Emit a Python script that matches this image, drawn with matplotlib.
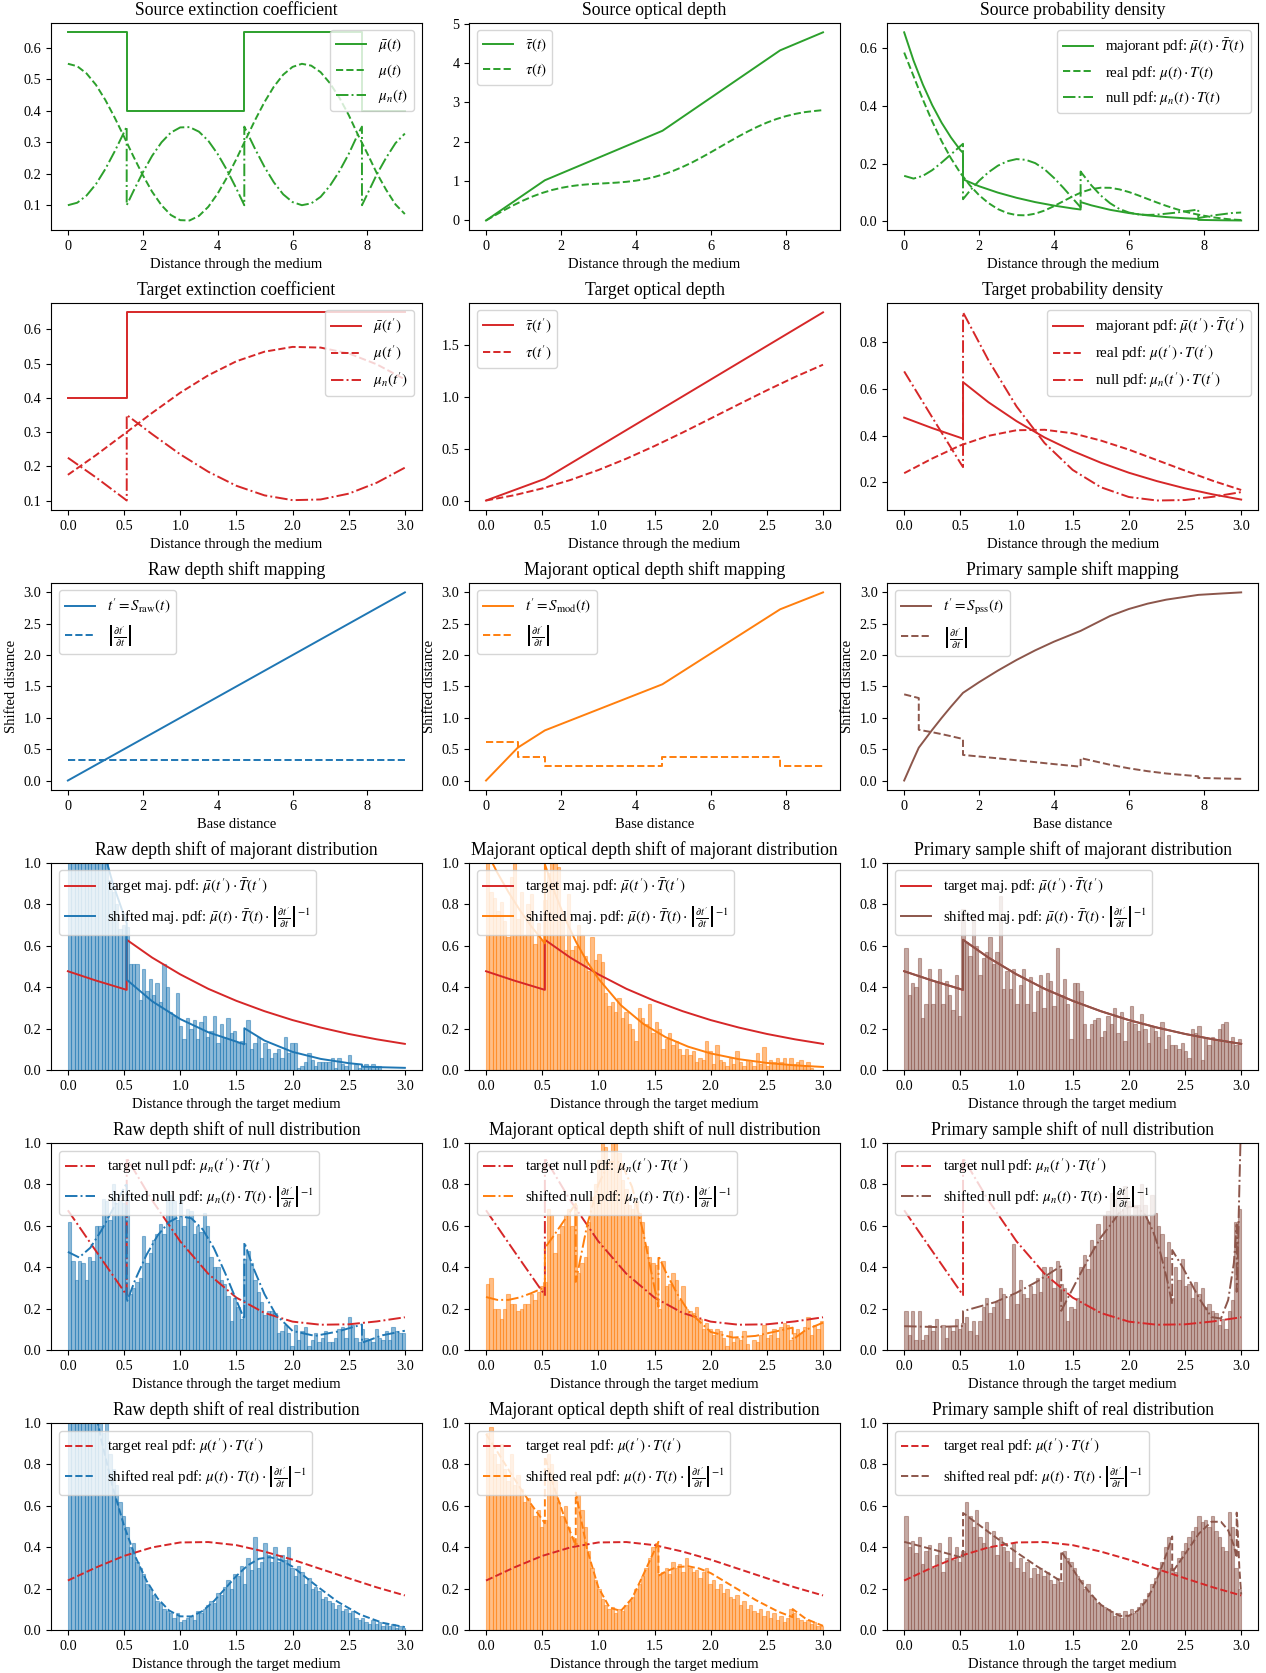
import numpy as np
import matplotlib
matplotlib.use("Agg")
import matplotlib.pyplot as plt

plt.rcParams["font.family"] = "serif"
plt.rcParams["font.serif"] = ["Liberation Serif", "DejaVu Serif"]
plt.rcParams["mathtext.fontset"] = "stix"
plt.rcParams["axes.titlesize"] = 12.7
plt.rcParams["axes.labelsize"] = 10.5
plt.rcParams["xtick.labelsize"] = 10.3
plt.rcParams["ytick.labelsize"] = 10.3
plt.rcParams["legend.fontsize"] = 10.8

c_src = "#2ca02c"
c_tgt = "#d62728"
c_raw = "#1f77b4"
c_mod = "#ff7f0e"
c_pss = "#8c564b"

# ---- source medium (t in [0, 9]) ----
src_x = [0, 0.25, 0.5, 0.75, 1.0, 1.25, 1.5, 1.75, 2.0, 2.25, 2.5, 2.75, 3.0, 3.25, 3.5, 3.75, 4.0,
         4.25, 4.5, 4.75, 5.0, 5.25, 5.5, 5.75, 6.0, 6.25, 6.5, 6.75, 7.0, 7.25, 7.5, 7.75, 8.0,
         8.25, 8.5, 8.75, 9.0]
src_mu = [0.55, 0.5422, 0.519, 0.4829, 0.435, 0.3788, 0.318, 0.2554, 0.196, 0.1429, 0.100, 0.0689,
          0.0525, 0.0515, 0.066, 0.0949, 0.137, 0.1885, 0.247, 0.3094, 0.371, 0.428, 0.477, 0.5153,
          0.540, 0.5499, 0.544, 0.5233, 0.488, 0.4421, 0.387, 0.3232, 0.264, 0.202, 0.149, 0.1024,
          0.072]
src_mubar_x = [0, 1.571, 1.571, 4.712, 4.712, 7.854, 7.854, 9.0]
src_mubar = [0.65, 0.65, 0.4, 0.4, 0.65, 0.65, 0.4, 0.4]
src_mun_x = [0, 0.25, 0.5, 0.75, 1.0, 1.25, 1.5, 1.571, 1.571, 1.75, 2.0, 2.25, 2.5, 2.75, 3.0, 3.25,
             3.5, 3.75, 4.0, 4.25, 4.5, 4.712, 4.712, 4.75, 5.0, 5.25, 5.5, 5.75, 6.0, 6.25, 6.5,
             6.75, 7.0, 7.25, 7.5, 7.75, 7.854, 7.854, 8.0, 8.25, 8.5, 8.75, 9.0]
src_mun = [0.1, 0.108, 0.131, 0.1671, 0.215, 0.2712, 0.332, 0.35, 0.1, 0.1446, 0.204, 0.2571, 0.300,
           0.3311, 0.3475, 0.3485, 0.334, 0.3051, 0.263, 0.2115, 0.153, 0.1, 0.35, 0.3406, 0.279,
           0.222, 0.173, 0.1347, 0.11, 0.1001, 0.106, 0.1267, 0.162, 0.2079, 0.263, 0.3268, 0.35,
           0.1, 0.136, 0.198, 0.251, 0.2976, 0.328]
src_taubar_x = [0, 1.571, 4.712, 7.854, 9.0]
src_taubar = [0, 1.021, 2.278, 4.320, 4.778]
src_tau = [0, 0.1368, 0.27, 0.3954, 0.51, 0.6122, 0.699, 0.771, 0.827, 0.8695, 0.90, 0.9204, 0.935,
           0.9479, 0.962, 0.9821, 1.011, 1.0513, 1.106, 1.1752, 1.26, 1.3603, 1.472, 1.598, 1.73,
           1.8667, 2.004, 2.1375, 2.264, 2.3807, 2.485, 2.5739, 2.647, 2.705, 2.75, 2.7781, 2.803]
src_majpdf_x = [0, 0.25, 0.5, 0.75, 1.0, 1.25, 1.5, 1.571, 1.571, 2.0, 2.5, 3.0, 3.5, 4.0, 4.5, 4.712,
                4.712, 5.0, 5.5, 6.0, 6.5, 7.0, 7.5, 7.854, 7.854, 8.0, 8.5, 9.0]
src_majpdf = [0.655, 0.5573, 0.474, 0.4026, 0.342, 0.2908, 0.247, 0.238, 0.146, 0.122, 0.100, 0.082,
              0.067, 0.055, 0.045, 0.0413, 0.0672, 0.0558, 0.0403, 0.0291, 0.0211, 0.0152, 0.0110,
              0.0087, 0.0054, 0.0051, 0.0041, 0.0034]
src_realpdf = [0.585, 0.5034, 0.422, 0.3462, 0.278, 0.2186, 0.168, 0.1258, 0.091, 0.0638, 0.043,
               0.0292, 0.022, 0.0212, 0.027, 0.0378, 0.053, 0.0701, 0.087, 0.1017, 0.112, 0.1169,
               0.1166, 0.111, 0.102, 0.0905, 0.078, 0.0657, 0.054, 0.0435, 0.034, 0.0263, 0.020,
               0.0144, 0.010, 0.0068, 0.005]
src_nullpdf = [0.158, 0.1485, 0.158, 0.1778, 0.204, 0.2323, 0.261, 0.269, 0.077, 0.1057, 0.141,
               0.1702, 0.193, 0.2084, 0.216, 0.2134, 0.202, 0.1806, 0.151, 0.1168, 0.080, 0.049,
               0.173, 0.1662, 0.125, 0.090, 0.063, 0.0431, 0.031, 0.0245, 0.0226, 0.0236, 0.027,
               0.0304, 0.035, 0.0394, 0.041, 0.0117, 0.015, 0.0209, 0.025, 0.0292, 0.031]

# ---- target medium (t' in [0, 3]) ----
tgt_x = [0, 0.25, 0.5, 0.75, 1.0, 1.25, 1.5, 1.75, 2.0, 2.25, 2.5, 2.75, 3.0]
tgt_mu = [0.175, 0.2325, 0.294, 0.356, 0.415, 0.466, 0.507, 0.535, 0.549, 0.547, 0.530, 0.498, 0.454]
tgt_mubar_x = [0, 0.524, 0.524, 3.0]
tgt_mubar = [0.4, 0.4, 0.65, 0.65]
tgt_mun_x = [0, 0.25, 0.5, 0.524, 0.524, 0.75, 1.0, 1.25, 1.5, 1.75, 2.0, 2.25, 2.5, 2.75, 3.0]
tgt_mun = [0.225, 0.1675, 0.106, 0.1, 0.35, 0.294, 0.235, 0.184, 0.143, 0.115, 0.101, 0.103,
           0.120, 0.152, 0.196]
tgt_taubar_x = [0, 0.524, 3.0]
tgt_taubar = [0, 0.2094, 1.819]
tgt_tau = [0, 0.0507, 0.1166, 0.198, 0.2945, 0.4047, 0.5266, 0.657, 0.793, 0.930, 1.065, 1.194, 1.313]
tgt_majpdf_x = [0, 0.25, 0.524, 0.524, 0.75, 1.0, 1.25, 1.5, 1.75, 2.0, 2.25, 2.5, 2.75, 3.0]
tgt_majpdf = [0.477, 0.432, 0.387, 0.629, 0.543, 0.462, 0.392, 0.334, 0.284, 0.241, 0.205, 0.174,
              0.148, 0.126]
tgt_realpdf = [0.239, 0.302, 0.358, 0.399, 0.423, 0.425, 0.410, 0.379, 0.340, 0.295, 0.250, 0.206, 0.167]
tgt_nullpdf = [0.675, 0.478, 0.283, 0.265, 0.928, 0.723, 0.525, 0.368, 0.253, 0.179, 0.137, 0.122,
               0.124, 0.138, 0.158]

# ---- shift mappings ----
raw_map_x = [0, 9.0]
raw_map = [0, 3.0]
raw_jac = [0.333, 0.333]
mod_map_x = [0, 0.847, 1.571, 4.712, 7.854, 9.0]
mod_map = [0, 0.524, 0.799, 1.535, 2.730, 3.0]
mod_jac_x = [0, 0.847, 0.847, 1.571, 1.571, 4.712, 4.712, 7.854, 7.854, 9.0]
mod_jac = [0.618, 0.618, 0.3805, 0.3805, 0.234, 0.234, 0.3805, 0.3805, 0.234, 0.234]
pss_map_x = [0, 0.2, 0.39, 0.75, 1.0, 1.25, 1.571, 2.0, 2.5, 3.0, 3.5, 4.0, 4.712, 5.5, 6.0, 6.5,
             7.0, 7.854, 8.5, 9.0]
pss_map = [0, 0.272, 0.524, 0.809, 0.998, 1.178, 1.398, 1.568, 1.752, 1.922, 2.076, 2.214, 2.386,
           2.624, 2.735, 2.82, 2.884, 2.96, 2.983, 3.0]
pss_jac_x = [0, 0.2, 0.39, 0.39, 0.75, 1.0, 1.25, 1.571, 1.571, 2.0, 2.5, 3.0, 3.5, 4.0, 4.712, 4.712,
             5.5, 6.0, 6.5, 7.0, 7.854, 7.854, 8.5, 9.0]
pss_jac = [1.374, 1.344, 1.315, 0.809, 0.770, 0.740, 0.707, 0.662, 0.408, 0.383, 0.354, 0.323, 0.293,
           0.262, 0.2205, 0.358, 0.251, 0.195, 0.149, 0.112, 0.0676, 0.0416, 0.0327, 0.027]

# ---- shifted pdfs ----
raw_maj_x = [0, 0.1, 0.2, 0.3, 0.4, 0.524, 0.524, 0.75, 1.0, 1.25, 1.571, 1.571, 1.75, 2.0, 2.25,
             2.5, 2.618, 2.618, 2.8, 3.0]
raw_maj = [1.966, 1.618, 1.331, 1.095, 0.901, 0.708, 0.436, 0.332, 0.246, 0.182, 0.124, 0.2016,
           0.142, 0.0873, 0.0535, 0.0328, 0.0262, 0.0161, 0.0130, 0.0102]
mod_maj_x = [0, 0.1, 0.2, 0.3, 0.4, 0.524, 0.524, 0.6, 0.7, 0.8, 0.9, 1.0, 1.2, 1.4, 1.6, 1.8, 2.0,
             2.25, 2.5, 2.75, 3.0]
mod_maj = [1.060, 0.954, 0.859, 0.773, 0.696, 0.6115, 0.994, 0.873, 0.736, 0.620, 0.523, 0.441,
           0.313, 0.2226, 0.158, 0.1124, 0.0799, 0.0521, 0.034, 0.0222, 0.0145]
pss_maj_x = tgt_majpdf_x
pss_maj = [0.477, 0.432, 0.387, 0.629, 0.543, 0.462, 0.392, 0.334, 0.284, 0.241, 0.205, 0.174,
           0.148, 0.126]

raw_null_x = [0, 0.1, 0.2, 0.3, 0.4, 0.524, 0.524, 0.6, 0.7, 0.8, 0.9, 1.0, 1.1, 1.2, 1.3, 1.4, 1.5,
              1.571, 1.571, 1.65, 1.75, 1.85, 2.0, 2.2, 2.4, 2.618, 2.618, 2.8, 3.0]
raw_null = [0.474, 0.447, 0.494, 0.579, 0.680, 0.807, 0.231, 0.340, 0.460, 0.554, 0.618, 0.647,
            0.636, 0.583, 0.492, 0.372, 0.240, 0.148, 0.52, 0.398, 0.270, 0.172, 0.092, 0.068,
            0.089, 0.123, 0.035, 0.071, 0.093]
mod_null_x = [0, 0.1, 0.2, 0.3, 0.4, 0.524, 0.524, 0.6, 0.7, 0.799, 0.799, 0.9, 1.0, 1.1, 1.2, 1.3,
              1.4, 1.47, 1.535, 1.535, 1.6, 1.7, 1.8, 2.0, 2.2, 2.4, 2.6, 2.73, 2.73, 2.85, 3.0]
mod_null = [0.256, 0.242, 0.242, 0.254, 0.274, 0.303, 0.493, 0.550, 0.629, 0.707, 0.329, 0.603,
            0.800, 0.909, 0.908, 0.788, 0.567, 0.379, 0.209, 0.455, 0.377, 0.273, 0.189, 0.087,
            0.060, 0.068, 0.092, 0.108, 0.050, 0.098, 0.132]
pss_shift_x = [0, 0.272, 0.524, 0.524, 0.809, 0.998, 1.178, 1.398, 1.398, 1.568, 1.662, 1.752, 1.852,
               1.922, 2.001, 2.076, 2.148, 2.214, 2.279, 2.339, 2.386, 2.386, 2.484, 2.624, 2.735,
               2.82, 2.884, 2.935, 2.96, 2.96, 2.967, 2.983, 3.0]
pss_null = [0.115, 0.111, 0.1155, 0.1877, 0.231, 0.276, 0.329, 0.406, 0.189, 0.368, 0.462, 0.545,
            0.615, 0.669, 0.692, 0.689, 0.651, 0.576, 0.473, 0.344, 0.222, 0.483, 0.395, 0.251,
            0.159, 0.152, 0.241, 0.42, 0.607, 0.281, 0.381, 0.765, 1.15]

raw_real_x = [0, 0.1, 0.2, 0.3, 0.4, 0.5, 0.6, 0.7, 0.8, 0.9, 1.0, 1.1, 1.2, 1.3, 1.4, 1.5, 1.6, 1.7,
              1.8, 1.9, 2.0, 2.2, 2.4, 2.6, 2.8, 3.0]
raw_real = [1.756, 1.46, 1.173, 0.913, 0.689, 0.504, 0.355, 0.238, 0.152, 0.0945, 0.066, 0.0655,
            0.092, 0.1395, 0.200, 0.261, 0.312, 0.344, 0.352, 0.337, 0.306, 0.219, 0.137, 0.075,
            0.035, 0.014]
mod_real_x = [0, 0.1, 0.2, 0.3, 0.4, 0.524, 0.524, 0.6, 0.7, 0.799, 0.799, 0.9, 1.0, 1.1, 1.2, 1.3,
              1.4, 1.535, 1.535, 1.6, 1.7, 1.8, 1.9, 2.0, 2.2, 2.4, 2.6, 2.73, 2.73, 2.85, 3.0]
mod_real = [0.947, 0.862, 0.775, 0.690, 0.609, 0.516, 0.838, 0.699, 0.541, 0.408, 0.664, 0.389,
            0.206, 0.108, 0.092, 0.153, 0.267, 0.426, 0.262, 0.283, 0.304, 0.308, 0.297, 0.275,
            0.210, 0.145, 0.089, 0.062, 0.101, 0.053, 0.020]
pss_real = [0.426, 0.387, 0.348, 0.5655, 0.450, 0.376, 0.309, 0.235, 0.381, 0.238, 0.173, 0.1215,
            0.0863, 0.068, 0.069, 0.092, 0.136, 0.202, 0.284, 0.374, 0.452, 0.278, 0.354, 0.466,
            0.523, 0.523, 0.482, 0.408, 0.349, 0.567, 0.508, 0.306, 0.172]

# ---- sample histograms (100 bins on [0, 3], density) ----
hist_raw_maj = [1.9, 1.85, 1.7, 1.65, 1.55, 1.5, 1.4, 1.35, 1.25, 1.2,
                1.1, 1.0, 0.92, 0.86, 0.8, 0.68, 0.70, 0.69, 0.51, 0.51,
                0.51, 0.34, 0.49, 0.38, 0.44, 0.36, 0.42, 0.33, 0.51, 0.40,
                0.28, 0.26, 0.37, 0.21, 0.15, 0.25, 0.20, 0.24, 0.15, 0.23,
                0.26, 0.16, 0.19, 0.26, 0.13, 0.22, 0.16, 0.25, 0.18, 0.19,
                0.13, 0.14, 0.13, 0.24, 0.10, 0.13, 0.16, 0.06, 0.13, 0.10,
                0.06, 0.08, 0.10, 0.06, 0.16, 0.08, 0.13, 0.13, 0.01, 0.02,
                0.04, 0.08, 0.05, 0.02, 0.04, 0.04, 0.04, 0.04, 0.06, 0.01,
                0.06, 0.03, 0.02, 0.07, 0.00, 0.03, 0.01, 0.02, 0.03, 0.01,
                0.03, 0.02, 0.02, 0.00, 0.00, 0.00, 0.00, 0.00, 0.00, 0.00]
hist_mod_maj = [1.0, 0.86, 0.83, 0.77, 0.81, 0.72, 0.64, 0.93, 1.0, 0.73,
                0.86, 0.65, 0.80, 0.85, 0.61, 0.71, 0.63, 0.82, 0.95, 1.0,
                1.0, 0.98, 0.75, 0.58, 0.85, 0.58, 0.60, 0.70, 0.65, 0.55,
                0.48, 0.64, 0.53, 0.56, 0.52, 0.37, 0.31, 0.33, 0.28, 0.35,
                0.25, 0.28, 0.22, 0.20, 0.14, 0.30, 0.25, 0.22, 0.32, 0.18,
                0.23, 0.20, 0.10, 0.15, 0.18, 0.12, 0.14, 0.10, 0.07, 0.10,
                0.07, 0.09, 0.04, 0.06, 0.05, 0.14, 0.09, 0.03, 0.12, 0.05,
                0.04, 0.02, 0.06, 0.03, 0.09, 0.04, 0.02, 0.05, 0.04, 0.02,
                0.08, 0.03, 0.11, 0.02, 0.05, 0.04, 0.06, 0.04, 0.06, 0.03,
                0.06, 0.03, 0.04, 0.05, 0.02, 0.04, 0.01, 0.00, 0.00, 0.00]
hist_pss_maj = [0.59, 0.36, 0.42, 0.40, 0.54, 0.25, 0.32, 0.49, 0.32, 0.43,
                0.49, 0.32, 0.43, 0.36, 0.29, 0.46, 0.26, 0.78, 0.62, 0.55,
                0.76, 0.60, 0.46, 0.54, 0.57, 0.64, 0.51, 0.57, 0.84, 0.39,
                0.48, 0.39, 0.49, 0.32, 0.41, 0.49, 0.32, 0.45, 0.28, 0.38,
                0.46, 0.30, 0.47, 0.43, 0.31, 0.59, 0.36, 0.44, 0.32, 0.15,
                0.42, 0.42, 0.38, 0.22, 0.15, 0.22, 0.24, 0.25, 0.16, 0.19,
                0.26, 0.22, 0.30, 0.18, 0.28, 0.14, 0.23, 0.31, 0.22, 0.19,
                0.27, 0.20, 0.13, 0.21, 0.19, 0.16, 0.23, 0.10, 0.17, 0.12,
                0.12, 0.10, 0.13, 0.09, 0.06, 0.20, 0.18, 0.21, 0.05, 0.16,
                0.12, 0.16, 0.15, 0.20, 0.22, 0.23, 0.14, 0.16, 0.12, 0.15]
hist_raw_null = [0.62, 0.43, 0.34, 0.43, 0.42, 0.34, 0.45, 0.43, 0.60, 0.60,
                 0.73, 0.72, 0.63, 0.80, 0.71, 0.72, 0.71, 0.75, 0.27, 0.30,
                 0.33, 0.35, 0.55, 0.42, 0.47, 0.53, 0.56, 0.61, 0.56, 0.77,
                 0.75, 0.72, 0.63, 0.75, 0.60, 0.68, 0.67, 0.56, 0.60, 0.57,
                 0.66, 0.60, 0.45, 0.40, 0.40, 0.34, 0.32, 0.26, 0.14, 0.25,
                 0.21, 0.15, 0.44, 0.48, 0.42, 0.34, 0.28, 0.23, 0.17, 0.19,
                 0.19, 0.18, 0.08, 0.09, 0.12, 0.08, 0.02, 0.12, 0.05, 0.09,
                 0.11, 0.02, 0.05, 0.08, 0.04, 0.06, 0.09, 0.04, 0.04, 0.06,
                 0.10, 0.11, 0.06, 0.16, 0.12, 0.06, 0.04, 0.10, 0.06, 0.05,
                 0.04, 0.10, 0.06, 0.05, 0.09, 0.05, 0.11, 0.09, 0.08, 0.08]
hist_mod_null = [0.32, 0.35, 0.20, 0.20, 0.15, 0.20, 0.27, 0.22, 0.22, 0.19,
                 0.20, 0.22, 0.22, 0.27, 0.24, 0.28, 0.31, 0.33, 0.68, 0.65,
                 0.47, 0.56, 0.60, 0.65, 0.68, 0.60, 0.70, 0.37, 0.42, 0.45,
                 0.62, 0.74, 0.80, 0.92, 1.0, 0.98, 0.90, 1.0, 1.0, 0.95,
                 0.82, 0.78, 0.70, 0.68, 0.72, 0.66, 0.62, 0.50, 0.45, 0.42,
                 0.41, 0.20, 0.43, 0.31, 0.32, 0.37, 0.34, 0.24, 0.31, 0.20,
                 0.19, 0.18, 0.21, 0.15, 0.10, 0.13, 0.10, 0.07, 0.10, 0.09,
                 0.06, 0.02, 0.09, 0.04, 0.06, 0.05, 0.09, 0.03, 0.00, 0.05,
                 0.04, 0.07, 0.12, 0.06, 0.07, 0.10, 0.06, 0.11, 0.13, 0.12,
                 0.05, 0.08, 0.10, 0.08, 0.11, 0.16, 0.07, 0.12, 0.10, 0.14]
hist_pss_null = [0.19, 0.07, 0.19, 0.05, 0.19, 0.05, 0.07, 0.12, 0.09, 0.15,
                 0.00, 0.12, 0.06, 0.11, 0.09, 0.15, 0.10, 0.13, 0.16, 0.09,
                 0.14, 0.07, 0.14, 0.21, 0.25, 0.18, 0.21, 0.23, 0.30, 0.27,
                 0.15, 0.26, 0.51, 0.22, 0.34, 0.27, 0.25, 0.31, 0.27, 0.35,
                 0.28, 0.40, 0.35, 0.40, 0.30, 0.43, 0.32, 0.30, 0.14, 0.21,
                 0.20, 0.25, 0.40, 0.46, 0.39, 0.53, 0.50, 0.61, 0.53, 0.65,
                 0.67, 0.76, 0.73, 0.76, 0.67, 0.79, 0.72, 0.65, 0.70, 0.70,
                 0.80, 0.70, 0.62, 0.75, 0.66, 0.60, 0.56, 0.45, 0.52, 0.25,
                 0.40, 0.34, 0.44, 0.31, 0.32, 0.25, 0.33, 0.27, 0.30, 0.21,
                 0.22, 0.19, 0.18, 0.12, 0.15, 0.10, 0.19, 0.24, 0.62, 0.68]
hist_raw_real = [1.7, 1.6, 1.55, 1.45, 1.4, 1.3, 1.25, 1.15, 1.1, 1.0,
                 0.95, 1.0, 0.85, 0.78, 0.70, 0.62, 0.55, 0.50, 0.40, 0.42,
                 0.33, 0.30, 0.27, 0.22, 0.20, 0.17, 0.14, 0.13, 0.10, 0.09,
                 0.08, 0.06, 0.08, 0.04, 0.05, 0.06, 0.07, 0.05, 0.09, 0.08,
                 0.10, 0.12, 0.14, 0.13, 0.18, 0.17, 0.21, 0.24, 0.20, 0.27,
                 0.26, 0.31, 0.22, 0.35, 0.29, 0.45, 0.30, 0.33, 0.42, 0.36,
                 0.33, 0.40, 0.33, 0.36, 0.34, 0.40, 0.30, 0.26, 0.31, 0.28,
                 0.22, 0.25, 0.20, 0.21, 0.19, 0.15, 0.16, 0.14, 0.13, 0.10,
                 0.12, 0.09, 0.10, 0.08, 0.09, 0.06, 0.05, 0.06, 0.04, 0.03,
                 0.05, 0.03, 0.04, 0.02, 0.03, 0.02, 0.03, 0.01, 0.02, 0.01]
hist_mod_real = [0.95, 0.98, 0.85, 0.80, 0.90, 0.78, 0.72, 0.85, 0.70, 0.75,
                 0.68, 0.62, 0.64, 0.60, 0.55, 0.58, 0.50, 0.53, 0.85, 0.80,
                 0.72, 0.62, 0.55, 0.60, 0.50, 0.45, 0.42, 0.65, 0.58, 0.50,
                 0.38, 0.30, 0.24, 0.20, 0.15, 0.12, 0.10, 0.11, 0.08, 0.10,
                 0.09, 0.12, 0.14, 0.16, 0.20, 0.22, 0.26, 0.30, 0.35, 0.40,
                 0.42, 0.27, 0.28, 0.30, 0.27, 0.33, 0.30, 0.32, 0.28, 0.35,
                 0.30, 0.28, 0.29, 0.25, 0.28, 0.30, 0.22, 0.24, 0.20, 0.22,
                 0.18, 0.20, 0.16, 0.15, 0.17, 0.12, 0.14, 0.10, 0.12, 0.09,
                 0.08, 0.10, 0.07, 0.09, 0.06, 0.08, 0.05, 0.07, 0.04, 0.06,
                 0.10, 0.08, 0.06, 0.05, 0.04, 0.05, 0.03, 0.04, 0.02, 0.02]
hist_pss_real = [0.55, 0.40, 0.43, 0.37, 0.45, 0.32, 0.38, 0.41, 0.30, 0.36,
                 0.42, 0.28, 0.35, 0.45, 0.34, 0.40, 0.33, 0.38, 0.62, 0.55,
                 0.50, 0.58, 0.45, 0.42, 0.52, 0.40, 0.48, 0.36, 0.45, 0.40,
                 0.38, 0.33, 0.42, 0.30, 0.35, 0.28, 0.33, 0.25, 0.30, 0.27,
                 0.30, 0.26, 0.28, 0.24, 0.22, 0.25, 0.23, 0.38, 0.35, 0.33,
                 0.30, 0.26, 0.24, 0.20, 0.22, 0.17, 0.15, 0.13, 0.12, 0.11,
                 0.10, 0.09, 0.07, 0.08, 0.06, 0.09, 0.07, 0.10, 0.08, 0.11,
                 0.13, 0.15, 0.18, 0.22, 0.25, 0.30, 0.33, 0.40, 0.45, 0.30,
                 0.28, 0.35, 0.38, 0.42, 0.45, 0.48, 0.50, 0.55, 0.52, 0.53,
                 0.50, 0.55, 0.48, 0.45, 0.40, 0.38, 0.57, 0.50, 0.30, 0.20]

jac_label = r"$\left|\frac{\partial t'}{\partial t}\right|$"
inv_jac = r"\left|\frac{\partial t'}{\partial t}\right|^{-1}$"

fig, axes = plt.subplots(6, 3, figsize=(12.66, 16.73), dpi=100)
fig.subplots_adjust(left=0.0403, right=0.9937, bottom=0.0257, top=0.9863, wspace=0.128, hspace=0.353)
lw = 1.4

# row 1: source medium
ax = axes[0, 0]
ax.plot(src_mubar_x, src_mubar, "-", color=c_src, lw=lw, label=r"$\bar{\mu}(t)$")
ax.plot(src_x, src_mu, "--", color=c_src, lw=lw, label=r"$\mu(t)$")
ax.plot(src_mun_x, src_mun, "-.", color=c_src, lw=lw, label=r"$\mu_n(t)$")
ax.set_title("Source extinction coefficient")
ax.set_xlabel("Distance through the medium")
ax.legend(loc="upper right")

ax = axes[0, 1]
ax.plot(src_taubar_x, src_taubar, "-", color=c_src, lw=lw, label=r"$\bar{\tau}(t)$")
ax.plot(src_x, src_tau, "--", color=c_src, lw=lw, label=r"$\tau(t)$")
ax.set_title("Source optical depth")
ax.set_xlabel("Distance through the medium")
ax.legend(loc="upper left")

ax = axes[0, 2]
ax.plot(src_majpdf_x, src_majpdf, "-", color=c_src, lw=lw,
        label=r"majorant pdf: $\bar{\mu}(t)\cdot\bar{T}(t)$")
ax.plot(src_x, src_realpdf, "--", color=c_src, lw=lw, label=r"real pdf: $\mu(t)\cdot T(t)$")
ax.plot(src_mun_x, src_nullpdf, "-.", color=c_src, lw=lw, label=r"null pdf: $\mu_n(t)\cdot T(t)$")
ax.set_title("Source probability density")
ax.set_xlabel("Distance through the medium")
ax.legend(loc="upper right")

# row 2: target medium
ax = axes[1, 0]
ax.plot(tgt_mubar_x, tgt_mubar, "-", color=c_tgt, lw=lw, label=r"$\bar{\mu}(t')$")
ax.plot(tgt_x, tgt_mu, "--", color=c_tgt, lw=lw, label=r"$\mu(t')$")
ax.plot(tgt_mun_x, tgt_mun, "-.", color=c_tgt, lw=lw, label=r"$\mu_n(t')$")
ax.set_title("Target extinction coefficient")
ax.set_xlabel("Distance through the medium")
ax.legend(loc="upper right")

ax = axes[1, 1]
ax.plot(tgt_taubar_x, tgt_taubar, "-", color=c_tgt, lw=lw, label=r"$\bar{\tau}(t')$")
ax.plot(tgt_x, tgt_tau, "--", color=c_tgt, lw=lw, label=r"$\tau(t')$")
ax.set_title("Target optical depth")
ax.set_xlabel("Distance through the medium")
ax.legend(loc="upper left")

ax = axes[1, 2]
ax.plot(tgt_majpdf_x, tgt_majpdf, "-", color=c_tgt, lw=lw,
        label=r"majorant pdf: $\bar{\mu}(t')\cdot\bar{T}(t')$")
ax.plot(tgt_x, tgt_realpdf, "--", color=c_tgt, lw=lw, label=r"real pdf: $\mu(t')\cdot T(t')$")
ax.plot(tgt_mun_x, tgt_nullpdf, "-.", color=c_tgt, lw=lw, label=r"null pdf: $\mu_n(t')\cdot T(t')$")
ax.set_title("Target probability density")
ax.set_xlabel("Distance through the medium")
ax.legend(loc="upper right")

# row 3: mappings
maps = [
    ("Raw depth shift mapping", c_raw, "raw", raw_map_x, raw_map, raw_map_x, raw_jac),
    ("Majorant optical depth shift mapping", c_mod, "mod", mod_map_x, mod_map, mod_jac_x, mod_jac),
    ("Primary sample shift mapping", c_pss, "pss", pss_map_x, pss_map, pss_jac_x, pss_jac),
]
for ax, (title, col, sub, mx, my, jx, jy) in zip(axes[2], maps):
    ax.plot(mx, my, "-", color=col, lw=lw, label=r"$t' = S_{\mathrm{%s}}(t)$" % sub)
    ax.plot(jx, jy, "--", color=col, lw=lw, label=jac_label)
    ax.set_title(title)
    ax.set_xlabel("Base distance")
    ax.set_ylabel("Shifted distance")
    ax.legend(loc="upper left")

# rows 4-6: shifted distributions with sample histograms
edges = np.linspace(0, 3, 101)
names = ["Raw depth shift", "Majorant optical depth shift", "Primary sample shift"]
cols = [c_raw, c_mod, c_pss]
rows = [
    ("majorant", "-", "target maj. pdf: " + r"$\bar{\mu}(t')\cdot\bar{T}(t')$",
     "shifted maj. pdf: " + r"$\bar{\mu}(t)\cdot\bar{T}(t)\cdot" + inv_jac,
     tgt_majpdf_x, tgt_majpdf,
     [hist_raw_maj, hist_mod_maj, hist_pss_maj],
     [(raw_maj_x, raw_maj), (mod_maj_x, mod_maj), (pss_maj_x, pss_maj)]),
    ("null", "-.", "target null pdf: " + r"$\mu_n(t')\cdot T(t')$",
     "shifted null pdf: " + r"$\mu_n(t)\cdot T(t)\cdot" + inv_jac,
     tgt_mun_x, tgt_nullpdf,
     [hist_raw_null, hist_mod_null, hist_pss_null],
     [(raw_null_x, raw_null), (mod_null_x, mod_null), (pss_shift_x, pss_null)]),
    ("real", "--", "target real pdf: " + r"$\mu(t')\cdot T(t')$",
     "shifted real pdf: " + r"$\mu(t)\cdot T(t)\cdot" + inv_jac,
     tgt_x, tgt_realpdf,
     [hist_raw_real, hist_mod_real, hist_pss_real],
     [(raw_real_x, raw_real), (mod_real_x, mod_real), (pss_shift_x, pss_real)]),
]
for r, (dist, ls, tlab, slab, tx, ty, hists, shifted) in enumerate(rows):
    for c in range(3):
        ax = axes[3 + r, c]
        ax.bar(edges[:-1], hists[c], width=edges[1] - edges[0], align="edge",
               color=cols[c], alpha=0.5, edgecolor=cols[c], linewidth=0.8)
        ax.plot(tx, ty, ls, color=c_tgt, lw=lw, label=tlab)
        ax.plot(shifted[c][0], shifted[c][1], ls, color=cols[c], lw=lw, label=slab)
        ax.set_ylim(0, 1)
        ax.set_title(f"{names[c]} of {dist} distribution")
        ax.set_xlabel("Distance through the target medium")
        ax.legend(loc="upper left")

fig.savefig("out.png", dpi=100)
